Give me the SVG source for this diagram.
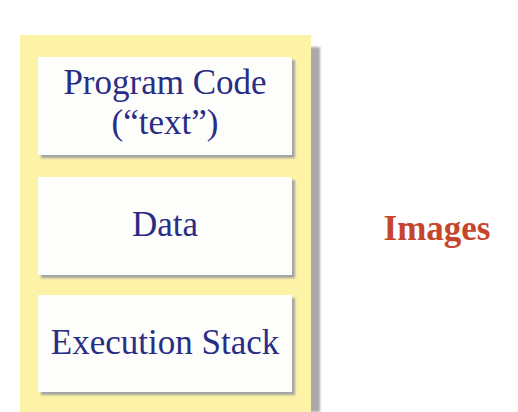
<svg xmlns="http://www.w3.org/2000/svg" width="518" height="412" viewBox="0 0 518 412">
  <defs>
    <filter id="soft" x="-10%" y="-10%" width="120%" height="120%">
      <feGaussianBlur stdDeviation="1.2"/>
    </filter>
    <style>
      .frame { fill: #fcf3a6; }
      .frameShadow { fill: #a9a9a9; }
      .box { fill: #fdfdfc; }
      .boxShadow { fill: #a3a3a3; }
      .label { font-family: "Liberation Serif", "Times New Roman", serif; font-size: 35px; fill: #2a2d84; text-anchor: middle; }
      .side { font-family: "Liberation Serif", "Times New Roman", serif; font-size: 35px; font-weight: bold; fill: #c6452d; text-anchor: middle; }
    </style>
  </defs>
  <rect width="518" height="412" fill="#ffffff"/>

  <!-- outer yellow frame with its drop shadow -->
  <g id="frame">
    <rect class="frameShadow" x="306" y="47" width="14" height="365" filter="url(#soft)"/>
    <rect class="frame" x="20" y="35" width="291" height="377"/>
  </g>

  <g id="program-code">
    <rect class="boxShadow" x="41" y="60" width="254" height="98" filter="url(#soft)"/>
    <rect class="box" x="38" y="57" width="254" height="98"/>
    <text class="label" x="165" y="94">Program Code</text>
    <text class="label" x="165" y="134">(“text”)</text>
  </g>

  <g id="data">
    <rect class="boxShadow" x="41" y="180" width="254" height="98" filter="url(#soft)"/>
    <rect class="box" x="38" y="177" width="254" height="98"/>
    <text class="label" x="165" y="236">Data</text>
  </g>

  <g id="execution-stack">
    <rect class="boxShadow" x="41" y="298" width="254" height="97" filter="url(#soft)"/>
    <rect class="box" x="38" y="295" width="254" height="97"/>
    <text class="label" x="165" y="354">Execution Stack</text>
  </g>

  <g id="images">
    <text class="side" x="437" y="240">Images</text>
  </g>

  <g id="connectors"/>
</svg>
